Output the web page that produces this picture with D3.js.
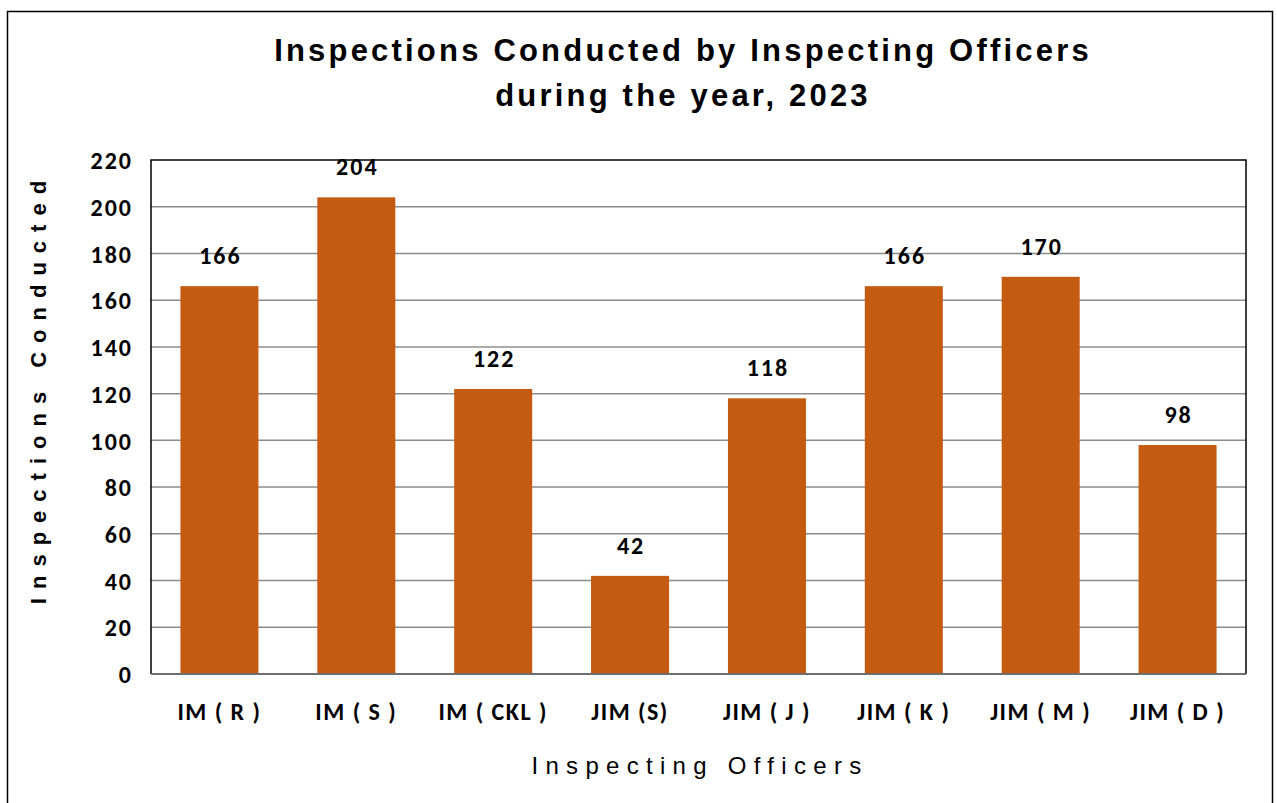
<!DOCTYPE html>
<html>
<head>
<meta charset="utf-8">
<script src="https://cdn.jsdelivr.net/npm/d3@7"></script>
<style>
  body { margin: 0; background: #fff; }
  svg { display: block; }
</style>
</head>
<body>
<svg width="1277" height="803"></svg>
<script>
    var officers = ["IM ( R )", "IM ( S )", "IM ( CKL )", "JIM (S)", "JIM ( J )", "JIM ( K )", "JIM ( M )", "JIM ( D )"];
    var inspections = [166, 204, 122, 42, 118, 166, 170, 98];
    var yTicks = [0, 20, 40, 60, 80, 100, 120, 140, 160, 180, 200, 220];

    var svg = d3.select("svg"),
        width = +svg.attr("width"),
        height = +svg.attr("height");

    var margin = { left: 151, top: 160, right: 1246, bottom: 674 };
    var labelFont = "Carlito, Calibri, Lato, sans-serif";

    // outer frame
    svg.append("rect")
        .attr("x", 7.5).attr("y", 11.5)
        .attr("width", 1265).attr("height", 800)
        .attr("fill", "none").attr("stroke", "#000").attr("stroke-width", 1.5);

    var x = d3.scaleBand()
        .domain(officers)
        .range([margin.left, margin.right])
        .paddingInner(0.43).paddingOuter(0.215);

    var y = d3.scaleLinear()
        .domain([0, 220])
        .range([margin.bottom, margin.top]);

    // gridlines
    svg.append("g")
        .selectAll("line")
        .data(yTicks.filter(function (d) { return d > 0 && d < 220; }))
        .enter().append("line")
            .attr("x1", margin.left).attr("x2", margin.right)
            .attr("y1", function (d) { return y(d); })
            .attr("y2", function (d) { return y(d); })
            .attr("stroke", "#8c8c8c").attr("stroke-width", 1.5);

    // bars
    var data = officers.map(function (o, i) { return { name: o, value: inspections[i] }; });
    svg.append("g")
        .selectAll("rect")
        .data(data)
        .enter().append("rect")
            .attr("x", function (d) { return x(d.name); })
            .attr("y", function (d) { return y(d.value); })
            .attr("width", x.bandwidth())
            .attr("height", function (d) { return y(0) - y(d.value); })
            .attr("fill", "#c55a11");

    // plot frame
    svg.append("path")
        .attr("d", "M" + margin.left + "," + margin.bottom + "V" + margin.top + "H" + margin.right + "V" + margin.bottom)
        .attr("fill", "none").attr("stroke", "#000").attr("stroke-width", 1.5);
    svg.append("line")
        .attr("x1", margin.left).attr("x2", margin.right)
        .attr("y1", margin.bottom).attr("y2", margin.bottom)
        .attr("stroke", "#6e6e6e").attr("stroke-width", 2);

    // value labels
    svg.append("g")
        .selectAll("text")
        .data(data)
        .enter().append("text")
            .attr("x", function (d) { return x(d.name) + x.bandwidth() / 2 + 1; })
            .attr("y", function (d) { return y(d.value) - 22; })
            .attr("text-anchor", "middle")
            .style("font-family", labelFont).style("font-weight", "bold").style("font-size", "24px")
            .style("letter-spacing", "2px")
            .text(function (d) { return d.value; });

    // y axis
    var yAxis = svg.append("g")
        .attr("transform", "translate(" + margin.left + ",0)")
        .call(d3.axisLeft(y).tickValues(yTicks).tickSize(0).tickPadding(18));
    yAxis.select(".domain").remove();
    yAxis.selectAll("text")
        .attr("dy", "0.36em")
        .style("font-family", labelFont).style("font-weight", "bold").style("font-size", "24px")
        .style("letter-spacing", "2px")
        .attr("fill", "#000");

    // x axis
    var xAxis = svg.append("g")
        .attr("transform", "translate(0," + margin.bottom + ")")
        .call(d3.axisBottom(x).tickSize(0).tickPadding(29));
    xAxis.select(".domain").remove();
    xAxis.selectAll("text")
        .style("font-family", labelFont).style("font-weight", "bold").style("font-size", "24px")
        .style("letter-spacing", "1.5px")
        .attr("fill", "#000");

    // titles
    var title = svg.append("text")
        .attr("text-anchor", "middle")
        .style("font-family", "'Liberation Sans Narrow', 'Arial Narrow', 'Liberation Sans', sans-serif")
        .style("font-weight", "bold").style("font-size", "31px")
        .style("letter-spacing", "3.2px");
    title.append("tspan").attr("x", 683).attr("y", 61).text("Inspections Conducted by Inspecting Officers");
    title.append("tspan").attr("x", 683).attr("y", 106).text("during the year, 2023");

    svg.append("text")
        .attr("transform", "translate(46,388) rotate(-90)")
        .attr("text-anchor", "middle")
        .style("font-family", "'Liberation Sans', Arial, sans-serif")
        .style("font-weight", "bold").style("font-size", "22px")
        .style("letter-spacing", "9px")
        .text("Inspections Conducted");

    svg.append("text")
        .attr("x", 700).attr("y", 774)
        .attr("text-anchor", "middle")
        .style("font-family", "'Liberation Sans', Arial, sans-serif")
        .style("font-size", "24px")
        .style("letter-spacing", "7.3px")
        .text("Inspecting Officers");
</script>
</body>
</html>
